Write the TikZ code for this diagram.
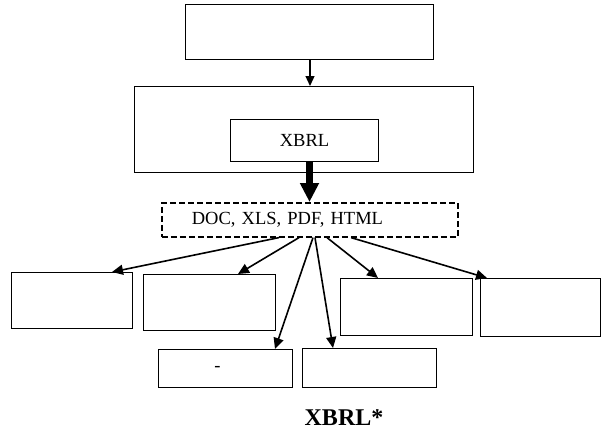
\documentclass[tikz,border=0pt]{standalone}
\usepackage{fontspec}
\setmainfont{Liberation Serif}
\usetikzlibrary{arrows.meta}
\begin{document}
\begin{tikzpicture}[x=1pt,y=-1pt,
  box/.style={draw=black, line width=1pt, inner sep=0pt, anchor=north west},
  dbox/.style={draw=black, line width=1.6pt, dash pattern=on 6pt off 3pt, anchor=north west, inner ysep=0pt},
  arr/.style={line width=1.6pt, -{Triangle[length=11pt,width=10pt]}},
  tarr/.style={line width=1.3pt, -{Triangle[length=10pt,width=9pt]}},
  fat/.style={line width=7pt, -{Triangle[length=19pt,width=18pt]}},
  lbl/.style={font=\fontsize{18.5}{22}\selectfont}]
\useasboundingbox (0,0) rectangle (601,434);
\node[box, minimum width=248pt, minimum height=55pt] (top) at (185,4) {};
\node[box, minimum width=339pt, minimum height=86pt] (big) at (134,86) {};
\node[box, minimum width=148pt, minimum height=42pt, lbl] (xbrl) at (230,119) {XBRL};
\node[dbox, minimum height=34pt, text width=236pt, inner xsep=30pt, align=left, lbl] (dash) at (161,202) {DOC, XLS, PDF, HTML};
\node[box, minimum width=121pt, minimum height=56pt] (b1) at (11,272) {};
\node[box, minimum width=132pt, minimum height=56pt] (b2) at (143,274) {};
\node[box, minimum width=132pt, minimum height=57pt] (b3) at (340,278) {};
\node[box, minimum width=120pt, minimum height=58pt] (b4) at (480,278) {};
\node[box, minimum width=134pt, minimum height=38pt, lbl] (b5) at (158,349) {\hspace*{-16pt}-};
\node[box, minimum width=134pt, minimum height=39pt] (b6) at (302,348) {};
\node[font=\fontsize{24}{28}\selectfont\bfseries] (cap) at (344,418) {XBRL*};
\draw[tarr] ([xshift=125pt]top.south west) -- ([xshift=176pt]big.north west);
\draw[fat] ([xshift=79.5pt]xbrl.south west) -- ([xshift=148.5pt]dash.north west);
\draw[arr] ([xshift=118pt]dash.south west) -- ([xshift=101pt]b1.north west);
\draw[arr] ([xshift=138pt]dash.south west) -- ([xshift=95pt]b2.north west);
\draw[arr] ([xshift=152pt]dash.south west) -- ([xshift=117pt]b5.north west);
\draw[arr] ([xshift=154pt]dash.south west) -- ([xshift=31pt]b6.north west);
\draw[arr] ([xshift=166pt]dash.south west) -- ([xshift=38pt]b3.north west);
\draw[arr] ([xshift=190pt]dash.south west) -- ([xshift=7pt]b4.north west);
\end{tikzpicture}
\end{document}
